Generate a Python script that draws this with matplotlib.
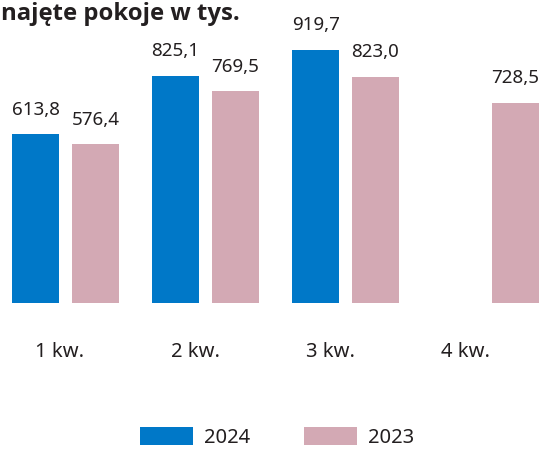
import numpy as np
import matplotlib
matplotlib.use("Agg")
import matplotlib.pyplot as plt

# data (thousands of rooms)
quarters = ["1 kw.", "2 kw.", "3 kw.", "4 kw."]
rooms_2024 = [613.8, 825.1, 919.7, np.nan]
rooms_2023 = [576.4, 769.5, 823.0, 728.5]
series_names = ["2024", "2023"]

BLUE = "#0078c8"
PINK = "#d3a9b4"
TEXT = "#231f20"

plt.rcParams["font.family"] = ["Noto Sans", "DejaVu Sans"]

fig = plt.figure(figsize=(5.4, 4.5), dpi=100)
ax = fig.add_axes([0, 0.3267, 1, 0.6733])

x = np.arange(len(quarters))
width = 0.336
offset = 0.214

b1 = ax.bar(x - offset, rooms_2024, width, color=BLUE, label=series_names[0])
b2 = ax.bar(x + offset, rooms_2023, width, color=PINK, label=series_names[1])

def fmt(v):
    return f"{v:.1f}".replace(".", ",")

for xs, vals in [(x - offset, rooms_2024), (x + offset, rooms_2023)]:
    for xi, v in zip(xs, vals):
        if np.isnan(v):
            continue
        ax.annotate(fmt(v), (xi, v), xytext=(0, 14), textcoords="offset points",
                    ha="center", va="baseline", fontsize=13.5, color=TEXT)

ax.set_xlim(-0.468, 3.389)
ax.set_ylim(0, 1101)
ax.set_xticks(x * 0.965 - 0.04)
ax.set_xticklabels(quarters, fontsize=14.5, color=TEXT)
ax.tick_params(axis="x", length=0, pad=28)
ax.set_yticks([])
for s in ax.spines.values():
    s.set_visible(False)
ax.patch.set_alpha(0)

# title is cropped on the left in the source; show the visible part
fig.text(1 / 540, 1 - 20 / 450, "najęte pokoje w tys.", ha="left",
         va="baseline", fontsize=17.2, fontweight="bold", color=TEXT,
         family=["Open Sans", "DejaVu Sans"])

fig.legend(handles=[b1, b2], loc="center", bbox_to_anchor=(0.513, 0.027),
           ncol=2, frameon=False, fontsize=14.5, handlelength=2.6,
           handleheight=1.0, handletextpad=0.55, columnspacing=2.7,
           labelcolor=TEXT)

fig.savefig("out.png", dpi=100)
